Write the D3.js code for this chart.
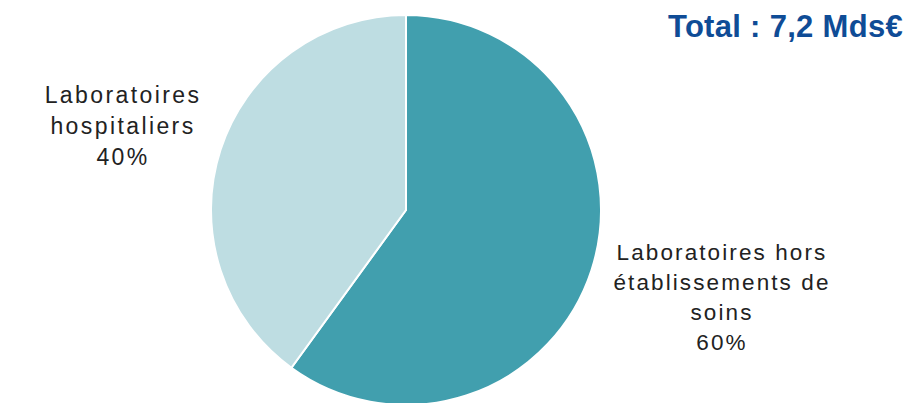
<!DOCTYPE html>
<html>
<head>
<meta charset="utf-8">
<script src="https://cdn.jsdelivr.net/npm/d3@7"></script>
<style>
  body { margin: 0; background: #fff; }
  svg { display: block; font-family: "Liberation Sans", Arial, sans-serif; }
</style>
</head>
<body>
<svg id="chart" width="919" height="403"></svg>
<script>
var categories = ['Laboratoires hors établissements de soins', 'Laboratoires hospitaliers'];
var shares = [60, 40];
var labelLines = [
    ['Laboratoires hors', 'établissements de', 'soins', '60%'],
    ['Laboratoires', 'hospitaliers', '40%']
];
var sliceColors = ['#419fae', '#bedde2'];
var totalLabel = 'Total : 7,2 Mds€';

var svg = d3.select('#chart');
var cx = 406, cy = 210, radius = 195;

var pie = d3.pie().sort(null).value(function (d) { return d; });
var arc = d3.arc().innerRadius(0).outerRadius(radius);

var g = svg.append('g').attr('transform', 'translate(' + cx + ',' + cy + ')');

g.selectAll('path')
    .data(pie(shares))
    .enter().append('path')
    .attr('d', arc)
    .attr('fill', function (d, i) { return sliceColors[i]; })
    .attr('stroke', '#fff')
    .attr('stroke-width', 2);

// label positions next to the pie
var labelPos = [
    { x: 722, y: 260, size: 22.5, spacing: 2.1, lead: 30 },
    { x: 123, y: 103, size: 23, spacing: 2.4, lead: 31 }
];

labelLines.forEach(function (lines, i) {
    var p = labelPos[i];
    var t = svg.append('text')
        .attr('x', p.x)
        .attr('y', p.y)
        .attr('text-anchor', 'middle')
        .attr('font-size', p.size)
        .attr('letter-spacing', p.spacing)
        .attr('fill', '#222');
    lines.forEach(function (line, j) {
        t.append('tspan')
            .attr('x', p.x)
            .attr('dy', j === 0 ? 0 : p.lead)
            .text(line);
    });
});

svg.append('text')
    .attr('x', 903)
    .attr('y', 37)
    .attr('text-anchor', 'end')
    .attr('font-size', 31)
    .attr('font-weight', 'bold')
    .attr('letter-spacing', 0.3)
    .attr('fill', '#0f4c96')
    .text(totalLabel);
</script>
</body>
</html>
